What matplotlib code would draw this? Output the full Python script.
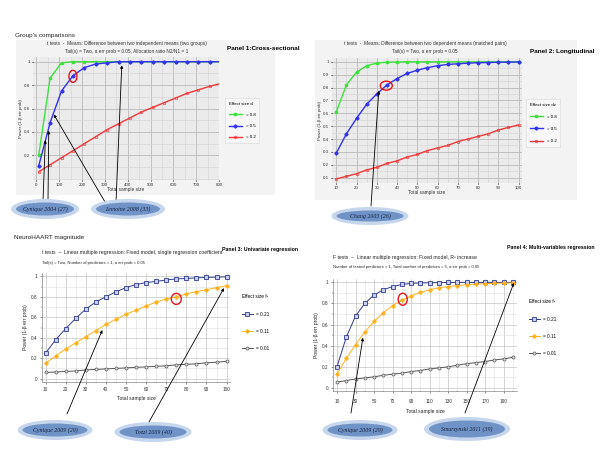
import matplotlib
matplotlib.use("Agg")
import matplotlib.pyplot as plt
from matplotlib.patches import Ellipse, Rectangle
from matplotlib.ticker import MultipleLocator, FixedLocator
import matplotlib.transforms as mtransforms

# ---------------- data ----------------
p1_n = [10, 60, 110, 160, 210, 260, 310, 360, 410, 460, 510, 560, 610, 660, 710, 760, 800]
p1_d08 = [0.20, 0.86, 0.99, 1.0, 1.0, 1.0, 1.0, 1.0, 1.0, 1.0, 1.0, 1.0, 1.0, 1.0, 1.0, 1.0, 1.0]
p1_d05 = [0.11, 0.48, 0.75, 0.88, 0.95, 0.98, 0.99, 1.0, 1.0, 1.0, 1.0, 1.0, 1.0, 1.0, 1.0, 1.0, 1.0]
p1_d02 = [0.06, 0.12, 0.18, 0.24, 0.30, 0.36, 0.42, 0.47, 0.52, 0.57, 0.61, 0.65, 0.69, 0.73, 0.76, 0.79, 0.81]
p1_labels = ["= 0.8", "= 0.5", "= 0.2"]

p2_n = [10, 15, 20, 25, 30, 35, 40, 45, 50, 55, 60, 65, 70, 75, 80, 85, 90, 95, 100]
p2_d08 = [0.61, 0.82, 0.92, 0.97, 0.99, 0.997, 0.999, 1.0, 1.0, 1.0, 1.0, 1.0, 1.0, 1.0, 1.0, 1.0, 1.0, 1.0, 1.0]
p2_d05 = [0.29, 0.44, 0.56, 0.67, 0.75, 0.82, 0.87, 0.91, 0.935, 0.955, 0.97, 0.98, 0.985, 0.99, 0.993, 0.995, 0.997, 0.998, 0.999]
p2_d02 = [0.09, 0.11, 0.13, 0.16, 0.18, 0.21, 0.23, 0.26, 0.28, 0.31, 0.33, 0.35, 0.38, 0.40, 0.42, 0.44, 0.47, 0.49, 0.51]
p2_labels = ["= 0.8", "= 0.5", "= 0.2"]

p3_n = [10, 15, 20, 25, 30, 35, 40, 45, 50, 55, 60, 65, 70, 75, 80, 85, 90, 95, 100]
p3_f021 = [0.25, 0.38, 0.49, 0.59, 0.68, 0.75, 0.80, 0.85, 0.89, 0.92, 0.94, 0.95, 0.965, 0.975, 0.98, 0.985, 0.99, 0.993, 0.995]
p3_f011 = [0.15, 0.22, 0.29, 0.35, 0.41, 0.47, 0.53, 0.58, 0.63, 0.67, 0.71, 0.75, 0.78, 0.80, 0.83, 0.85, 0.87, 0.89, 0.91]
p3_f001 = [0.06, 0.065, 0.07, 0.075, 0.085, 0.09, 0.095, 0.10, 0.105, 0.11, 0.115, 0.12, 0.125, 0.135, 0.14, 0.145, 0.155, 0.16, 0.17]

p4_n = [10, 20, 30, 40, 50, 60, 70, 80, 90, 100, 110, 120, 130, 140, 150, 160, 170, 180, 190, 200]
p4_f021 = [0.20, 0.48, 0.68, 0.80, 0.88, 0.93, 0.96, 0.98, 0.99, 0.995, 0.997, 0.998, 0.999, 1.0, 1.0, 1.0, 1.0, 1.0, 1.0, 1.0]
p4_f011 = [0.13, 0.28, 0.41, 0.53, 0.63, 0.71, 0.78, 0.83, 0.87, 0.905, 0.93, 0.95, 0.96, 0.97, 0.978, 0.984, 0.988, 0.991, 0.993, 0.995]
p4_f001 = [0.055, 0.07, 0.085, 0.095, 0.105, 0.12, 0.13, 0.14, 0.155, 0.165, 0.18, 0.19, 0.20, 0.215, 0.23, 0.24, 0.25, 0.265, 0.275, 0.29]
reg_labels = ["= 0.21", "= 0.11", "= 0.01"]

# ---------------- figure ----------------
W, H = 600, 450
fig = plt.figure(figsize=(6, 4.5), dpi=100)
fig.patch.set_facecolor("white")
plt.rcParams["font.family"] = ["Liberation Sans", "DejaVu Sans"]


def fx(x):
    return x / W


def fy(y):
    return 1 - y / H


def ax_px(x0, y0, x1, y1):
    return fig.add_axes([fx(x0), fy(y1), (x1 - x0) / W, (y1 - y0) / H])


def ftext(x, y, s, **kw):
    fig.text(fx(x), fy(y), s, **kw)


def bubble(cx, cy, w, h, label):
    fig.patches.append(Ellipse((fx(cx), fy(cy)), w / W, h / H, transform=fig.transFigure,
                               facecolor="#c6d6ec", edgecolor="none", zorder=5))
    fig.patches.append(Ellipse((fx(cx), fy(cy)), (w - 10) / W, (h - 7) / H, transform=fig.transFigure,
                               facecolor="#6f93c6", edgecolor="none", zorder=6))
    fig.text(fx(cx), fy(cy), label, ha="center", va="center", fontsize=4.2,
             family="Liberation Serif", style="italic", color="#14213d", zorder=7)


def arrow(ax, tip, start):
    ax.annotate("", xy=tip, xycoords="data", xytext=(fx(start[0]), fy(start[1])),
                textcoords="figure fraction", annotation_clip=False,
                arrowprops=dict(arrowstyle="-|>", color="black", lw=0.6,
                                mutation_scale=4, shrinkA=0, shrinkB=0), zorder=8)


def red_ring(ax, x, y, wpx, hpx):
    tr = fig.dpi_scale_trans + mtransforms.ScaledTranslation(x, y, ax.transData)
    e = Ellipse((0, 0), wpx / 100, hpx / 100, transform=tr, facecolor="none",
                edgecolor="#e8141a", lw=1.0, zorder=9, clip_on=False)
    ax.add_artist(e)


# ---------- Panel 1 ----------
fig.patches.append(Rectangle((fx(16), fy(195)), (275 - 16) / W, (195 - 40) / H,
                             transform=fig.transFigure, facecolor="#f3f3f3", edgecolor="none", zorder=-5))
ftext(15, 35, "Group's comparisons", fontsize=4.6, color="#222222", va="center")
ftext(127, 44, "t tests  -  Means: Difference between two independent means (two groups)",
      fontsize=3.4, ha="center", va="center", color="#333333")
ftext(127, 51, "Tail(s) = Two, α err prob = 0.05, Allocation ratio N2/N1 = 1",
      fontsize=3.4, ha="center", va="center", color="#333333")
ftext(227, 48, "Panel 1:Cross-sectional", fontsize=4.6, weight="bold", va="center")

ax1 = ax_px(33, 57, 219, 180)
ax1.set_facecolor("#ebebeb")
ax1.plot(p1_n, p1_d08, color="#3ee03e", lw=1.0, marker="s", ms=1.8, mfc="#3ee03e",
         markevery=list(range(16)), label=p1_labels[0])
ax1.plot(p1_n, p1_d05, color="#3232f0", lw=1.0, marker="D", ms=1.6,
         markevery=list(range(16)), label=p1_labels[1])
ax1.plot(p1_n, p1_d02, color="#f03a3a", lw=1.0, marker="o", ms=1.8, mfc="none", mew=0.5,
         markevery=list(range(16)), label=p1_labels[2])
ax1.set_xlim(-15, 800)
ax1.set_ylim(-0.01, 1.04)
ax1.xaxis.set_major_locator(MultipleLocator(100))
ax1.xaxis.set_minor_locator(MultipleLocator(50))
ax1.yaxis.set_major_locator(FixedLocator([0.2, 0.4, 0.6, 0.8, 1.0]))
ax1.yaxis.set_minor_locator(MultipleLocator(0.1))
ax1.set_yticklabels(["0.2", "0.4", "0.6", "0.8", "1"])
ax1.grid(which="major", color="#b9b9b9", lw=0.6)
ax1.grid(which="minor", color="#d2d2d2", lw=0.4)
ax1.set_axisbelow(True)
ax1.set_xlabel("Total sample size", fontsize=3.4, labelpad=0.5, color="#333333")
ax1.set_ylabel("Power (1-β err prob)", fontsize=3.2, labelpad=1, color="#333333")
for s in ax1.spines.values():
    s.set_visible(False)
ax1.tick_params(labelsize=3.2, length=1, pad=1, colors="#333333")
ax1.tick_params(which="minor", length=0)
leg1 = ax1.legend(loc="upper left", bbox_to_anchor=(fx(223), fy(96)), bbox_transform=fig.transFigure,
                  title="Effect size d", fontsize=3.2, title_fontsize=3.2, frameon=True,
                  labelspacing=1.6, handlelength=3, borderpad=0.8, alignment="left",
                  fancybox=False, edgecolor="#dddddd", facecolor="#f7f7f7", framealpha=1)
leg1.get_frame().set_linewidth(0.5)
red_ring(ax1, 160, 0.875, 8, 12)
arrow(ax1, (39, 0.33), (43, 201))
arrow(ax1, (54, 0.41), (48, 201))
arrow(ax1, (76, 0.55), (105, 202))
arrow(ax1, (374, 0.97), (116, 202))
bubble(45, 209, 68, 20, "Cynique 2004 (27)")
bubble(128, 209, 74, 20, "Lemoine 2008 (33)")

# ---------- Panel 2 ----------
fig.patches.append(Rectangle((fx(315), fy(200)), (577 - 315) / W, (200 - 40) / H,
                             transform=fig.transFigure, facecolor="#f3f3f3", edgecolor="none", zorder=-5))
ftext(425, 44, "t tests  -  Means: Difference between two dependent means (matched pairs)",
      fontsize=3.4, ha="center", va="center", color="#333333")
ftext(425, 52, "Tail(s) = Two, α err prob = 0.05", fontsize=3.4, ha="center", va="center", color="#333333")
ftext(530, 52, "Panel 2: Longitudinal", fontsize=4.6, weight="bold", va="center")

ax2 = ax_px(332, 58, 522, 183)
ax2.set_facecolor("#ebebeb")
ax2.plot(p2_n, p2_d08, color="#3ee03e", lw=1.0, marker="s", ms=1.8, label=p2_labels[0])
ax2.plot(p2_n, p2_d05, color="#3232f0", lw=1.0, marker="D", ms=1.6, label=p2_labels[1])
ax2.plot(p2_n, p2_d02, color="#f03a3a", lw=1.0, marker="o", ms=1.8, mfc="none", mew=0.5,
         label=p2_labels[2])
ax2.set_xlim(7.9, 101.7)
ax2.set_ylim(0.058, 1.03)
ax2.xaxis.set_major_locator(MultipleLocator(10))
ax2.xaxis.set_minor_locator(MultipleLocator(5))
ax2.yaxis.set_major_locator(FixedLocator([0.1, 0.2, 0.3, 0.4, 0.5, 0.6, 0.7, 0.8, 0.9, 1.0]))
ax2.yaxis.set_minor_locator(MultipleLocator(0.05))
ax2.set_yticklabels(["0.1", "0.2", "0.3", "0.4", "0.5", "0.6", "0.7", "0.8", "0.9", "1"])
ax2.grid(which="major", color="#b9b9b9", lw=0.6)
ax2.grid(which="minor", color="#d2d2d2", lw=0.4)
ax2.set_axisbelow(True)
ax2.set_xlabel("Total sample size", fontsize=3.4, labelpad=0.5, color="#333333")
ax2.set_ylabel("Power (1-β err prob)", fontsize=3.2, labelpad=1, color="#333333")
for s in ax2.spines.values():
    s.set_visible(False)
ax2.tick_params(labelsize=3.2, length=1, pad=1, colors="#333333")
ax2.tick_params(which="minor", length=0)
leg2 = ax2.legend(loc="upper left", bbox_to_anchor=(fx(524), fy(97)), bbox_transform=fig.transFigure,
                  title="Effect size dz", fontsize=3.2, title_fontsize=3.2, frameon=True,
                  labelspacing=1.8, handlelength=3, borderpad=0.8, alignment="left",
                  fancybox=False, edgecolor="#dddddd", facecolor="#f7f7f7", framealpha=1)
leg2.get_frame().set_linewidth(0.5)
red_ring(ax2, 34.7, 0.815, 12, 9)
arrow(ax2, (31, 0.775), (371, 206))
bubble(370, 216, 77, 18, "Chang 2003 (26)")


# ---------- Panels 3/4 style ----------
def reg_style(ax, xmaj, xminor):
    ax.set_facecolor("white")
    ax.xaxis.set_major_locator(xmaj)
    ax.xaxis.set_minor_locator(xminor)
    ax.yaxis.set_major_locator(MultipleLocator(0.2))
    ax.yaxis.set_minor_locator(MultipleLocator(0.1))
    ax.grid(which="major", color="#c4c4c4", lw=0.5)
    ax.grid(which="minor", color="#dedede", lw=0.4)
    ax.set_axisbelow(True)
    for k in ("top", "right"):
        ax.spines[k].set_visible(False)
    for k in ("left", "bottom"):
        ax.spines[k].set_color("#888888")
        ax.spines[k].set_linewidth(0.5)
    ax.tick_params(labelsize=3.4, length=1.5, width=0.4, pad=2, colors="#333333")
    ax.tick_params(which="minor", length=1, width=0.3)
    ax.yaxis.set_major_formatter(plt.FuncFormatter(lambda v, p: "%g" % round(v, 2)))


# ---------- Panel 3 ----------
ftext(14, 238, "NeuroHAART magnitude", fontsize=4.6, color="#222222", va="center")
ftext(42, 252, "t tests  –  Linear multiple regression: Fixed model, single regression coefficient",
      fontsize=3.7, va="center", color="#222222")
ftext(42, 263, "Tail(s) = Two, Number of predictors = 1, α err prob = 0.05",
      fontsize=3.0, va="center", color="#222222")
ftext(222, 249, "Panel 3: Univariate regression", fontsize=3.8, weight="bold", va="center")

ax3 = ax_px(42, 273, 230, 382)
ax3.plot(p3_n, p3_f021, color="#2f3a8f", lw=0.7, marker="s", ms=2.4, mfc="#c9cdf0", mew=0.6,
         label=reg_labels[0])
ax3.plot(p3_n, p3_f011, color="#ffb21e", lw=0.7, marker="P", ms=2.2, label=reg_labels[1])
ax3.plot(p3_n, p3_f001, color="#555555", lw=0.7, marker="o", ms=2.2, mfc="#dddddd", mew=0.5,
         label=reg_labels[2])
ax3.set_xlim(8.2, 101.7)
ax3.set_ylim(-0.033, 1.033)
reg_style(ax3, MultipleLocator(10), MultipleLocator(5))
ax3.set_xlabel("Total sample size", fontsize=3.6, labelpad=3, color="#222222")
ax3.set_ylabel("Power (1-β err prob)", fontsize=3.6, labelpad=2, color="#222222")
ax3.legend(loc="upper left", bbox_to_anchor=(fx(238), fy(290)), bbox_transform=fig.transFigure,
           title="Effect size f²", fontsize=3.4, title_fontsize=3.4, frameon=False,
           labelspacing=2.6, handlelength=2.2, alignment="left")
red_ring(ax3, 75, 0.78, 10, 11)
arrow(ax3, (38.2, 0.475), (67, 414))
arrow(ax3, (98.7, 0.885), (149, 422))
bubble(55, 430, 75, 20, "Cynique 2009 (29)")
bubble(153, 432, 77, 20, "Tozzi 2009 (40)")

# ---------- Panel 4 ----------
ftext(507, 248, "Panel 4: Multi-variables regression", fontsize=3.8, weight="bold", va="center")
ftext(333, 258, "F tests  –  Linear multiple regression: Fixed model, R² increase",
      fontsize=3.7, va="center", color="#222222")
ftext(333, 267, "Number of tested predictors = 1, Total number of predictors = 5, α err prob = 0.05",
      fontsize=3.0, va="center", color="#222222")

ax4 = ax_px(333, 279, 517, 391)
ax4.plot(p4_n, p4_f021, color="#2f3a8f", lw=0.7, marker="s", ms=2.4, mfc="#c9cdf0", mew=0.6,
         label=reg_labels[0])
ax4.plot(p4_n, p4_f011, color="#ffb21e", lw=0.7, marker="P", ms=2.2, label=reg_labels[1])
ax4.plot(p4_n, p4_f001, color="#555555", lw=0.7, marker="o", ms=2.2, mfc="#dddddd", mew=0.5,
         label=reg_labels[2])
ax4.set_xlim(5.7, 204.4)
ax4.set_ylim(-0.029, 1.032)
reg_style(ax4, FixedLocator([10, 30, 50, 70, 90, 110, 130, 150, 170, 190]), MultipleLocator(10))
ax4.tick_params(axis="x", pad=4)
ax4.set_xlabel("Total sample size", fontsize=3.6, labelpad=4, color="#222222")
ax4.set_ylabel("Power (1-β err prob)", fontsize=3.6, labelpad=2, color="#222222")
ax4.legend(loc="upper left", bbox_to_anchor=(fx(525), fy(295)), bbox_transform=fig.transFigure,
           title="Effect size f²", fontsize=3.4, title_fontsize=3.4, frameon=False,
           labelspacing=2.6, handlelength=2.2, alignment="left")
red_ring(ax4, 81, 0.84, 9, 12)
arrow(ax4, (38, 0.476), (351, 413))
arrow(ax4, (201, 0.995), (465, 413))
bubble(360, 430, 75, 20, "Cynique 2009 (29)")
bubble(467, 429, 86, 24, "Smurzynski 2011 (39)")

fig.savefig("out.png", dpi=100)
